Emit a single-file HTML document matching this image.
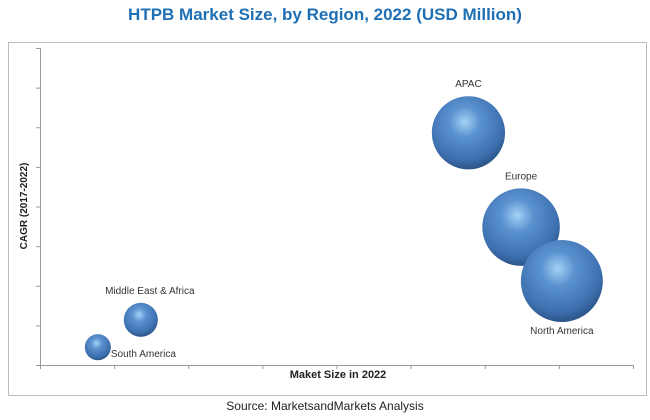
<!DOCTYPE html>
<html><head><meta charset="utf-8"><style>
body{margin:0;background:#fff;width:650px;height:415px;overflow:hidden;font-family:"Liberation Sans",sans-serif}
</style></head><body>
<svg width="650" height="415">
<defs>
<radialGradient id="g" cx="0.45" cy="0.35" r="0.7">
<stop offset="0" stop-color="#a4d2f6"/>
<stop offset="0.3" stop-color="#5a92d0"/>
<stop offset="0.75" stop-color="#3d6fae"/>
<stop offset="1" stop-color="#244a7a"/>
</radialGradient>
</defs>
<text x="325" y="20" text-anchor="middle" font-size="17" font-weight="bold" fill="#1f6fb4">HTPB Market Size, by Region, 2022 (USD Million)</text>
<rect x="8.5" y="42.5" width="638" height="353" fill="#fff" stroke="#bdbdbd"/>
<g id="axes" stroke="#999" stroke-width="1"></g>
<g id="bubbles"></g>
<text x="338" y="378" text-anchor="middle" font-size="11" font-weight="bold" fill="#222">Maket Size in 2022</text>
<text transform="translate(27,206) rotate(-90)" text-anchor="middle" font-size="10" font-weight="bold" fill="#222">CAGR (2017-2022)</text>
<text x="325" y="410" text-anchor="middle" font-size="12" fill="#222">Source: MarketsandMarkets Analysis</text>
</svg>
<script>
const regions=["South America","Middle East & Africa","APAC","Europe","North America"];
const marketX=[0.78,1.36,5.78,6.49,7.04];
const cagrY=[0.45,1.14,5.86,3.48,2.12];
const bubbleSize=[170,290,1340,1500,1680];
const labelPos=["right","above","above","above","below"];
const ns="http://www.w3.org/2000/svg";
const x0=40,x1=633,y0=365,y1=48,n=8;
const sx=v=>x0+v*(x1-x0)/n, sy=v=>y0-v*(y0-y1)/n, sr=v=>Math.sqrt(v);
const ax=document.getElementById('axes');
function ln(a,b,c,d,name){const l=document.createElementNS(ns,'line');l.setAttribute('x1',a);l.setAttribute('y1',b);l.setAttribute('x2',c);l.setAttribute('y2',d);


ax.appendChild(l);}
ln(x0,y0+0.5,x1,y0+0.5,'x-axis');ln(x0+0.5,y1,x0+0.5,y0,'y-axis');
for(let i=0;i<=n;i++){ln(sx(i)+0.5,y0,sx(i)+0.5,y0+4,'x-tick');ln(x0-4,sy(i)+0.5,x0,sy(i)+0.5,'y-tick');}
const bg=document.getElementById('bubbles');
regions.forEach((r,i)=>{
const cx=sx(marketX[i]),cy=sy(cagrY[i]),rad=sr(bubbleSize[i]);
const c=document.createElementNS(ns,'circle');
c.setAttribute('cx',cx);c.setAttribute('cy',cy);c.setAttribute('r',rad);c.setAttribute('fill','url(#g)');


bg.appendChild(c);
const t=document.createElementNS(ns,'text');
let tx=cx,ty=cy-rad-9,anchor='middle';
if(labelPos[i]==='below'){ty=cy+rad+12;}
if(labelPos[i]==='right'){tx=cx+rad;ty=cy+10;anchor='start';}
if(i===1){tx=cx+9;}
t.setAttribute('x',tx);t.setAttribute('y',ty);t.setAttribute('text-anchor',anchor);
t.setAttribute('font-size','10');t.setAttribute('fill','#333');t.textContent=r;


bg.appendChild(t);
});
</script>
</body></html>
